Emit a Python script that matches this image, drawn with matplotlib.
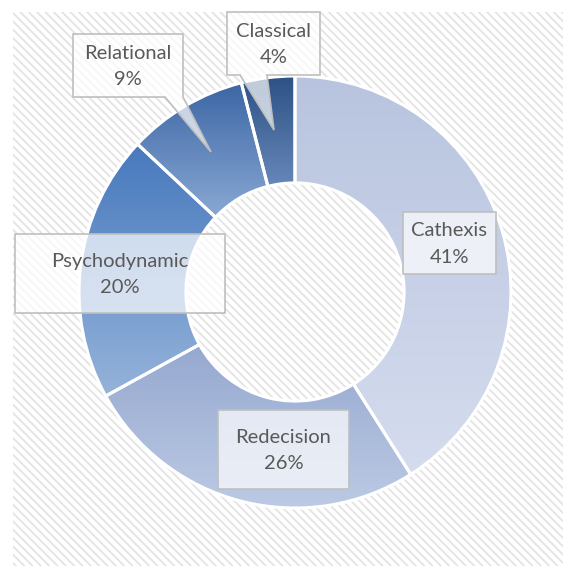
import numpy as np
import matplotlib
matplotlib.use("Agg")
import matplotlib.pyplot as plt
from matplotlib.patches import Rectangle, Polygon
from matplotlib.colors import to_rgb

# ---- data ----
categories = ["Cathexis", "Redecision", "Psychodynamic", "Relational", "Classical"]
values = [41, 26, 20, 9, 4]
pct_labels = ["41%", "26%", "20%", "9%", "4%"]
grad_top = ["#b8c4df", "#95a8cf", "#4779bd", "#3b66a4", "#2c5184"]
grad_bot = ["#d5dcee", "#bccae4", "#95b3da", "#8aa8d4", "#6787ba"]

W, H, DPI = 563, 566, 100
CX, CY, R = 295, 292, 216  # pixel centre (from top) and radius

plt.rcParams["hatch.linewidth"] = 1.3
fig = plt.figure(figsize=(W / DPI, H / DPI), dpi=DPI)
ax = fig.add_axes([0, 0, 1, 1])


def px(x, y):
    """pixel (from top-left) -> data coords"""
    return ((x - CX) / R, (CY - y) / R)


# hatched background
x0, y0 = px(13, 566)
x1, y1 = px(563, 12)
bg = Rectangle((x0, y0), x1 - x0, y1 - y0, facecolor="white",
               edgecolor="#e4e4e4", hatch="\\\\\\\\", linewidth=0, zorder=0)
ax.add_patch(bg)

wedges, _ = ax.pie(values, startangle=90, counterclock=False, radius=1,
                   wedgeprops=dict(width=0.495, edgecolor="white", linewidth=2.2))

for w, ct, cb in zip(wedges, grad_top, grad_bot):
    w.set_facecolor("none")
    w.set_zorder(3)
    ext = w.get_path().get_extents()
    n = 256
    t = np.linspace(0, 1, n)[:, None]
    c0 = np.array(to_rgb(cb))
    c1 = np.array(to_rgb(ct))
    img = (c0 * (1 - t) + c1 * t)[:, None, :]
    im = ax.imshow(img, extent=[ext.x0, ext.x1, ext.y0, ext.y1], origin="lower",
                   aspect="auto", interpolation="bilinear", zorder=2)
    im.set_clip_path(w)

# label boxes (pixel layout)
boxes = {
    "Cathexis": (403, 212, 496, 274, None),
    "Redecision": (218, 410, 349, 489, None),
    "Psychodynamic": (15, 234, 225, 313, None),
    "Relational": (73, 34, 183, 97, ((183, 97), (211, 152), (165, 97))),
    "Classical": (227, 12, 320, 75, ((267, 75), (274, 130), (240, 75))),
}

for cat, pct in zip(categories, pct_labels):
    l, t, r, b, ptr = boxes[cat]
    if ptr is None:
        verts = [(l, t), (r, t), (r, b), (l, b)]
    else:
        verts = [(l, t), (r, t), (r, b)]
        if ptr[0] != (r, b):
            verts.append(ptr[0])
        verts += [ptr[1], ptr[2], (l, b)]
    poly = Polygon([px(*v) for v in verts], closed=True, facecolor=(1, 1, 1, 0.7),
                   edgecolor="#bfbfbf", linewidth=1.2, zorder=4)
    ax.add_patch(poly)
    tx, ty = px((l + r) / 2, (t + b) / 2 + 1)
    ax.text(tx, ty, f"{cat}\n{pct}", ha="center", va="center", multialignment="center",
            fontsize=14.5, family="Lato", color="#595959", linespacing=1.7, zorder=5)

ax.set_xlim(-CX / R, (W - CX) / R)
ax.set_ylim((CY - H) / R, CY / R)
ax.set_aspect("auto")
ax.axis("off")

fig.savefig("out.png", dpi=DPI, facecolor="white")
